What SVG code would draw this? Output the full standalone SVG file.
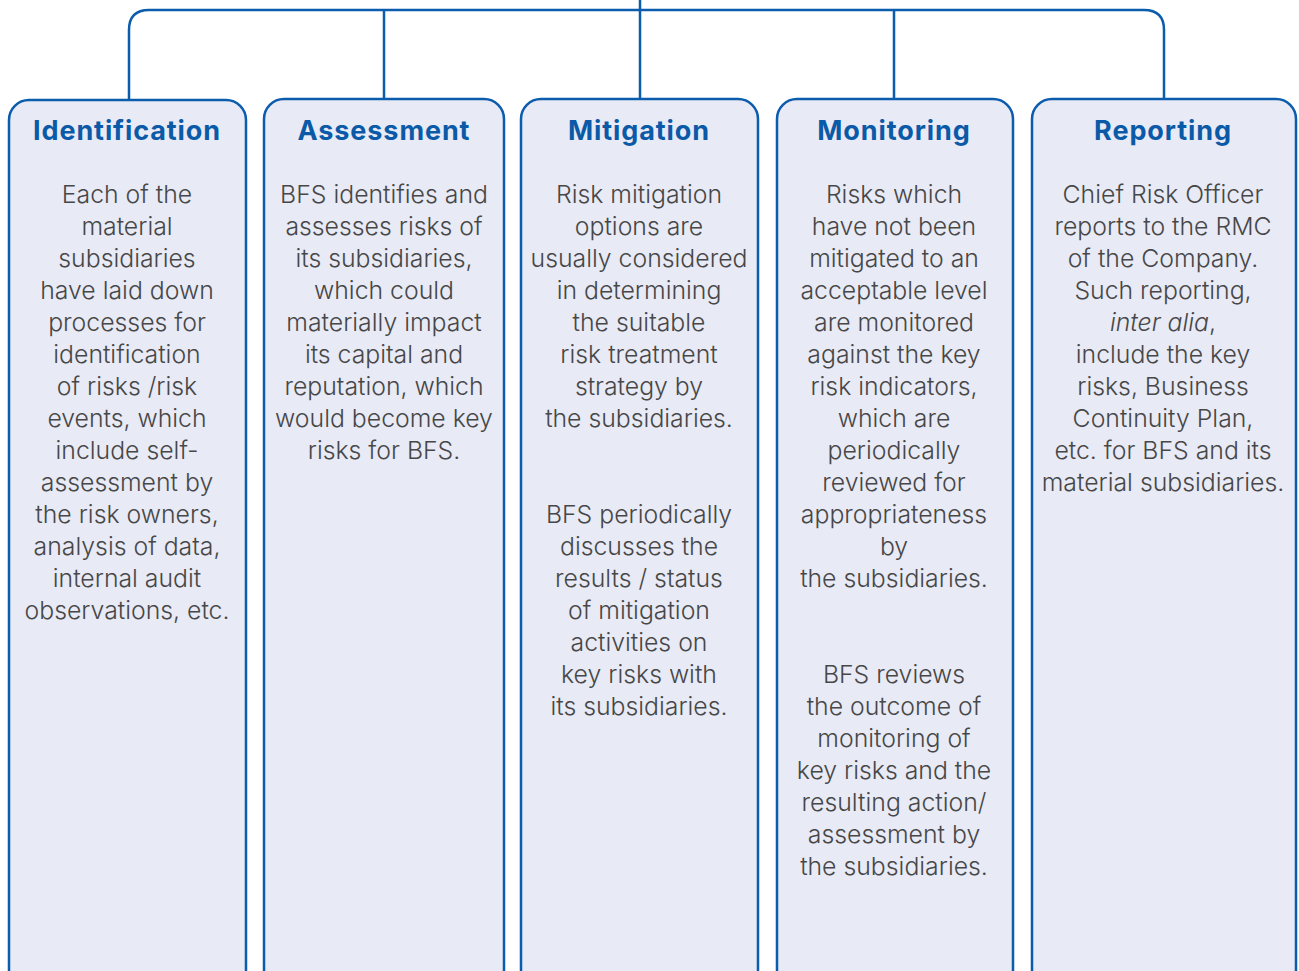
<svg xmlns="http://www.w3.org/2000/svg" width="1299" height="971" viewBox="0 0 1299 971">
<style>
.box{fill:#e8eaf6;stroke:#0b5cad;stroke-width:2.5}
.con{fill:none;stroke:#0b5cad;stroke-width:2.5}
.h{font-family:Inter,"Liberation Sans",sans-serif;font-weight:700;font-size:27px;letter-spacing:0.9px;fill:#0b5aa8;text-anchor:middle}
.t{font-family:Inter,"Liberation Sans",sans-serif;font-weight:300;font-size:24.8px;fill:#474747;text-anchor:middle}
</style>
<rect width="1299" height="971" fill="#ffffff"/>
<g id="connectors">
<path class="con" d="M129,100 V30 Q129,10 149,10 H1144 Q1164,10 1164,30 V100"/>
<path class="con" d="M384,10 V100 M640,0 V100 M894,10 V100"/>
</g>
<g id="identification">
<rect class="box" x="9" y="100" width="237" height="890" rx="20"/>
<text class="h" x="127" y="140">Identification</text>
<text class="t" x="127" y="203"><tspan x="127" dy="0">Each of the</tspan><tspan x="127" dy="32">material</tspan><tspan x="127" dy="32">subsidiaries</tspan><tspan x="127" dy="32">have laid down</tspan><tspan x="127" dy="32">processes for</tspan><tspan x="127" dy="32">identification</tspan><tspan x="127" dy="32">of risks /risk</tspan><tspan x="127" dy="32">events, which</tspan><tspan x="127" dy="32">include self-</tspan><tspan x="127" dy="32">assessment by</tspan><tspan x="127" dy="32">the risk owners,</tspan><tspan x="127" dy="32">analysis of data,</tspan><tspan x="127" dy="32">internal audit</tspan><tspan x="127" dy="32">observations, etc.</tspan></text>
</g>
<g id="assessment">
<rect class="box" x="264" y="99" width="240" height="891" rx="20"/>
<text class="h" x="384" y="140">Assessment</text>
<text class="t" x="384" y="203"><tspan x="384" dy="0">BFS identifies and</tspan><tspan x="384" dy="32">assesses risks of</tspan><tspan x="384" dy="32">its subsidiaries,</tspan><tspan x="384" dy="32">which could</tspan><tspan x="384" dy="32">materially impact</tspan><tspan x="384" dy="32">its capital and</tspan><tspan x="384" dy="32">reputation, which</tspan><tspan x="384" dy="32">would become key</tspan><tspan x="384" dy="32">risks for BFS.</tspan></text>
</g>
<g id="mitigation">
<rect class="box" x="521" y="99" width="237" height="891" rx="20"/>
<text class="h" x="639" y="140">Mitigation</text>
<text class="t" x="639" y="203"><tspan x="639" dy="0">Risk mitigation</tspan><tspan x="639" dy="32">options are</tspan><tspan x="639" dy="32">usually considered</tspan><tspan x="639" dy="32">in determining</tspan><tspan x="639" dy="32">the suitable</tspan><tspan x="639" dy="32">risk treatment</tspan><tspan x="639" dy="32">strategy by</tspan><tspan x="639" dy="32">the subsidiaries.</tspan><tspan x="639" dy="96">BFS periodically</tspan><tspan x="639" dy="32">discusses the</tspan><tspan x="639" dy="32">results / status</tspan><tspan x="639" dy="32">of mitigation</tspan><tspan x="639" dy="32">activities on</tspan><tspan x="639" dy="32">key risks with</tspan><tspan x="639" dy="32">its subsidiaries.</tspan></text>
</g>
<g id="monitoring">
<rect class="box" x="777" y="99" width="236" height="891" rx="20"/>
<text class="h" x="894" y="140">Monitoring</text>
<text class="t" x="894" y="203"><tspan x="894" dy="0">Risks which</tspan><tspan x="894" dy="32">have not been</tspan><tspan x="894" dy="32">mitigated to an</tspan><tspan x="894" dy="32">acceptable level</tspan><tspan x="894" dy="32">are monitored</tspan><tspan x="894" dy="32">against the key</tspan><tspan x="894" dy="32">risk indicators,</tspan><tspan x="894" dy="32">which are</tspan><tspan x="894" dy="32">periodically</tspan><tspan x="894" dy="32">reviewed for</tspan><tspan x="894" dy="32">appropriateness</tspan><tspan x="894" dy="32">by</tspan><tspan x="894" dy="32">the subsidiaries.</tspan><tspan x="894" dy="96">BFS reviews</tspan><tspan x="894" dy="32">the outcome of</tspan><tspan x="894" dy="32">monitoring of</tspan><tspan x="894" dy="32">key risks and the</tspan><tspan x="894" dy="32">resulting action/</tspan><tspan x="894" dy="32">assessment by</tspan><tspan x="894" dy="32">the subsidiaries.</tspan></text>
</g>
<g id="reporting">
<rect class="box" x="1032" y="99" width="264" height="891" rx="20"/>
<text class="h" x="1163" y="140">Reporting</text>
<text class="t" x="1163" y="203"><tspan x="1163" dy="0">Chief Risk Officer</tspan><tspan x="1163" dy="32">reports to the RMC</tspan><tspan x="1163" dy="32">of the Company.</tspan><tspan x="1163" dy="32">Such reporting,</tspan><tspan x="1163" dy="32"><tspan font-style="italic">inter alia</tspan>,</tspan><tspan x="1163" dy="32">include the key</tspan><tspan x="1163" dy="32">risks, Business</tspan><tspan x="1163" dy="32">Continuity Plan,</tspan><tspan x="1163" dy="32">etc. for BFS and its</tspan><tspan x="1163" dy="32">material subsidiaries.</tspan></text>
</g>
</svg>
